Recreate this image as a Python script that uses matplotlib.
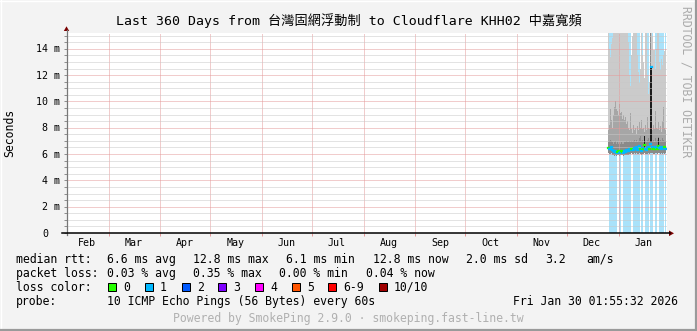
import numpy as np
import matplotlib
matplotlib.use('Agg')
import matplotlib.pyplot as plt
import matplotlib.dates as mdates
import matplotlib.ticker as mticker
import matplotlib.transforms as mtrans
from matplotlib.patches import Rectangle, Polygon
from matplotlib.lines import Line2D
import datetime as dt

plt.rcParams['font.family'] = ['DejaVu Sans Mono', 'Noto Sans CJK TC']

# ---------------- data ----------------
title = "Last 360 Days from 台灣固網浮動制 to Cloudflare KHH02 中嘉寬頻"
end_time = dt.datetime(2026, 1, 30, 1, 55, 32)
span_days = 360
first_sample = dt.datetime(2025, 12, 25, 16, 0)
step_days = 0.6

# packets lost (of 10) per step
loss = [0, 1, 1, 1, 1, 1, 1, 1, 1, 0, 0, 1, 1, 0, 0, 1, 1, 1, 1, 1,
        1, 1, 1, 0, 0, 1, 1, 1, 1, 1, 1, 1, 0, 1, 1, 0, 0, 1, 1, 1,
        1, 0, 1, 1, 1, 0, 0, 1, 1, 0, 0, 1, 1, 1, 1, 1, 0, 1]
# median rtt (ms)
median = [6.45, 6.40, 6.35, 6.50, 6.30, 6.20, 6.15, 6.25, 6.10, 6.15,
          6.20, 6.10, 6.15, 6.25, 6.15, 6.10, 6.20, 6.15, 6.30, 6.20,
          6.25, 6.35, 6.30, 6.40, 6.35, 6.30, 6.45, 6.35, 6.50, 6.30,
          6.40, 6.60, 6.35, 6.25, 6.45, 6.35, 6.70, 6.40, 6.30, 6.45,
          6.55, 6.40, 6.80, 12.60, 6.50, 6.40, 6.35, 6.55, 6.45, 6.40,
          6.60, 6.45, 6.50, 6.40, 6.55, 6.45, 6.50, 6.40]
# smoke: lowest ping, inner band top, middle band top, highest ping (ms)
smoke_lo = [6.05, 6.00, 6.00, 6.05, 5.95, 5.90, 5.85, 5.90, 5.85, 5.90,
            5.90, 5.85, 5.90, 5.95, 5.90, 5.85, 5.90, 5.90, 5.95, 5.90,
            5.95, 6.00, 6.00, 6.05, 6.00, 6.00, 6.05, 6.00, 6.05, 6.00,
            6.00, 6.05, 6.00, 5.95, 6.00, 6.00, 6.05, 6.00, 6.00, 6.00,
            6.05, 6.00, 6.10, 6.10, 6.05, 6.00, 6.00, 6.05, 6.05, 6.00,
            6.05, 6.05, 6.00, 6.05, 6.00, 6.05, 6.00, 6.05]
smoke_in = [6.9, 7.0, 7.1, 7.0, 6.9, 6.8, 6.9, 7.0, 6.8, 6.9,
            6.8, 6.9, 6.8, 6.9, 6.8, 6.8, 6.9, 6.9, 7.0, 6.9,
            6.9, 7.0, 6.9, 7.0, 6.9, 7.0, 7.1, 6.9, 7.1, 6.9,
            7.0, 7.2, 7.4, 7.0, 7.1, 6.9, 7.3, 7.0, 6.9, 7.1,
            7.2, 7.0, 16.0, 7.0, 7.0, 7.1, 6.9, 7.2, 7.0, 7.1,
            7.3, 7.0, 7.1, 7.0, 7.2, 7.1, 7.0, 7.0]
smoke_mid = [7.8, 8.2, 9.4, 8.6, 8.0, 9.0, 9.6, 10.0, 9.4, 9.3,
             9.0, 9.8, 9.1, 9.2, 8.7, 9.0, 8.6, 8.8, 8.3, 8.5,
             8.0, 7.8, 9.1, 7.9, 7.6, 8.2, 7.8, 8.0, 7.5, 8.1,
             7.8, 8.4, 8.0, 8.6, 7.9, 8.0, 7.7, 8.2, 7.8, 8.8,
             8.0, 7.9, 8.3, 8.0, 7.8, 8.2, 7.9, 9.3, 8.0, 7.9,
             8.4, 7.8, 8.1, 7.7, 8.5, 9.6, 8.0, 7.8]
smoke_hi = [16.0, 14.0, 13.4, 14.4, 14.8, 15.5, 16.0, 16.0, 16.0, 16.0,
            16.0, 16.0, 16.0, 16.0, 16.0, 16.0, 16.0, 16.0, 16.0, 16.0,
            14.5, 12.0, 11.2, 13.5, 15.0, 16.0, 16.0, 16.0, 16.0, 13.5,
            12.2, 11.4, 12.5, 16.0, 13.5, 13.0, 11.8, 16.0, 16.0, 12.0,
            10.6, 11.5, 16.0, 16.0, 15.0, 13.9, 13.9, 12.5, 14.0, 16.0,
            16.0, 13.0, 12.4, 13.2, 12.8, 13.5, 13.8, 14.0]
# dense (darkest) smoke columns
core_idx = [36, 42, 43, 50]
core_lo = [6.4, 6.9, 6.9, 6.4]
core_hi = [7.4, 12.7, 12.7, 7.2]

y_ticks = [0, 2, 4, 6, 8, 10, 12, 14]
y_labels = ['0', '2 m', '4 m', '6 m', '8 m', '10 m', '12 m', '14 m']

loss_labels = ['0', '1', '2', '3', '4', '5', '6-9', '10/10']
loss_colors = ['#26ff00', '#00b8ff', '#0059ff', '#7e00ff', '#ff00ff',
               '#ff5500', '#ff0000', '#a00000']

legend_line1 = ['median rtt:', '6.6 ms avg', '12.8 ms max', '6.1 ms min',
                '12.8 ms now', '2.0 ms sd', '3.2', 'am/s']
legend_line2 = ['packet loss:', '0.03 % avg', '0.35 % max', '0.00 % min',
                '0.04 % now']
legend_line3 = 'loss color:'
legend_line4 = ['probe:', '10 ICMP Echo Pings (56 Bytes) every 60s',
                'Fri Jan 30 01:55:32 2026']
footer = 'Powered by SmokePing 2.9.0 · smokeping.fast-line.tw'
side_text = 'RRDTOOL / TOBI OETIKER'

# ---------------- figure ----------------
W, H = 697, 331
BG = '#f3f3f3'
FS = 8.3      # legend font size
AFS = 7.2     # axis font size
fig = plt.figure(figsize=(W / 100, H / 100), dpi=100, facecolor=BG)
# pixel transform with origin at top-left
T = mtrans.Affine2D().scale(1, -1).translate(0, H)

PL, PT, PW, PH = 67, 33, 600, 200
ax = fig.add_axes([PL / W, 1 - (PT + PH) / H, PW / W, PH / H])
ax.set_facecolor('white')

start_time = end_time - dt.timedelta(days=span_days)
x0 = mdates.date2num(first_sample)
n = len(median)
edges = x0 + step_days * np.arange(n + 1)
loss_a = np.array(loss)
y_top = 15.2

# loss background
mask = loss_a > 0
ax.bar(edges[:-1][mask], np.full(mask.sum(), 20.0), width=step_days,
       align='edge', color='#a9e2fa', linewidth=0, zorder=1)

# smoke
lo = np.array(smoke_lo)
ax.stairs(np.array(smoke_hi), edges, baseline=lo, fill=True,
          color='#cbcbcb', linewidth=0, zorder=1.2)
ax.stairs(np.array(smoke_mid), edges, baseline=lo, fill=True,
          color='#a6a6a6', linewidth=0, zorder=1.3)
ax.stairs(np.array(smoke_in), edges, baseline=lo, fill=True,
          color='#8a8a8a', linewidth=0, zorder=1.4)
ci = np.array(core_idx)
ax.bar(edges[ci], np.array(core_hi) - np.array(core_lo), bottom=core_lo,
       width=step_days, align='edge', color='#1c1c1c', linewidth=0, zorder=1.5)

# median, coloured by loss
mcol = [loss_colors[min(l, 7)] for l in loss]
ax.hlines(median, edges[:-1], edges[1:], colors=mcol, linewidth=1.6,
          capstyle='projecting', zorder=3)

ax.set_xlim(mdates.date2num(start_time), mdates.date2num(end_time))
ax.set_ylim(0, y_top)

# grid
ax.set_axisbelow(False)
ax.yaxis.set_major_locator(mticker.FixedLocator(y_ticks))
ax.yaxis.set_minor_locator(mticker.MultipleLocator(0.5))
ax.xaxis.set_major_locator(mdates.MonthLocator())
ax.xaxis.set_major_formatter(mticker.NullFormatter())
ax.xaxis.set_minor_locator(mdates.MonthLocator(bymonthday=16))
ax.xaxis.set_minor_formatter(mdates.DateFormatter('%b'))
dot = (0, (1, 1))
ax.grid(which='minor', axis='y', color='#c8c8c8', linewidth=0.72,
        linestyle=dot, snap=True)
ax.grid(which='major', axis='y', color='#e59a9a', linewidth=0.72,
        linestyle=dot, snap=True)
ax.grid(which='major', axis='x', color='#e59a9a', linewidth=0.72,
        linestyle=dot, snap=True)
ax.tick_params(axis='y', which='both', direction='out', length=2.2,
               width=0.72, color='#909090', labelleft=False)
ax.tick_params(axis='x', which='major', direction='out', length=2.2,
               width=0.72, color='#e59a9a')
ax.tick_params(axis='x', which='minor', length=0, pad=3.6,
               labelsize=AFS, labelcolor='black')
for s in ax.spines.values():
    s.set_visible(False)

# y tick labels
ytr = ax.get_yaxis_transform()
for v, lab in zip(y_ticks, y_labels):
    dx = -19 if lab == '0' else -7
    tr = mtrans.offset_copy(ytr, fig=fig, x=dx, y=-3.6, units='dots')
    ax.text(0, v, lab, transform=tr, ha='right', va='baseline',
            fontsize=AFS, color='black')

# axis lines and arrows
fig.add_artist(Line2D([66.5, 66.5], [235, 30], transform=T,
                      color='#777777', linewidth=0.9))
fig.add_artist(Line2D([62, 670], [233.3, 233.3], transform=T,
                      color='black', linewidth=1.1))
fig.add_artist(Polygon([[63.8, 31], [69.2, 31], [66.5, 26.3]], closed=True,
                       transform=T, color='#7a0000', linewidth=0))
fig.add_artist(Polygon([[669, 230.5], [669, 236.1], [674, 233.3]], closed=True,
                       transform=T, color='#7a0000', linewidth=0))

# frame
fig.add_artist(Line2D([0, W], [0.5, 0.5], transform=T, color='white', linewidth=1))
fig.add_artist(Line2D([0.5, 0.5], [0, H], transform=T, color='white', linewidth=1))
fig.add_artist(Line2D([0, W], [H - 1.2, H - 1.2], transform=T, color='#9a9a9a', linewidth=1.6))
fig.add_artist(Line2D([W - 1.2, W - 1.2], [0, H], transform=T, color='#9a9a9a', linewidth=1.6))

# texts
fig.text(348.5, 25, title, transform=T, ha='center', va='baseline',
         fontsize=9.5, color='black')
fig.text(10, 133, 'Seconds', transform=T, rotation=90, ha='center',
         va='center', fontsize=FS, color='black')
fig.text(686, 6, side_text, transform=T, rotation=270, ha='center',
         va='top', fontsize=FS, color='#ababab')

x1 = [16, 107, 193, 286, 372.7, 466, 545, 586.7]
for x, s in zip(x1, legend_line1):
    fig.text(x, 263, s, transform=T, ha='left', va='baseline', fontsize=FS)
x2 = [16, 107.3, 193.3, 279.3, 366]
for x, s in zip(x2, legend_line2):
    fig.text(x, 277.3, s, transform=T, ha='left', va='baseline', fontsize=FS)
fig.text(16, 291, legend_line3, transform=T, ha='left', va='baseline', fontsize=FS)
bx = 108.3
cw = 6.95
for lab, col in zip(loss_labels, loss_colors):
    fig.add_artist(Rectangle((bx, 283), 8, 8, transform=T, facecolor=col,
                             edgecolor='black', linewidth=0.72))
    fig.text(bx + 15, 291, lab, transform=T, ha='left', va='baseline', fontsize=FS)
    bx = bx + 15 + len(lab) * cw + 14.75
x4 = [16, 107.3, 513.3]
for x, s in zip(x4, legend_line4):
    fig.text(x, 305, s, transform=T, ha='left', va='baseline', fontsize=FS)
fig.text(348.7, 321.7, footer, transform=T, ha='center', va='baseline',
         fontsize=FS, color='#b0b0b0')

fig.savefig('out.png', dpi=100, facecolor=BG)
